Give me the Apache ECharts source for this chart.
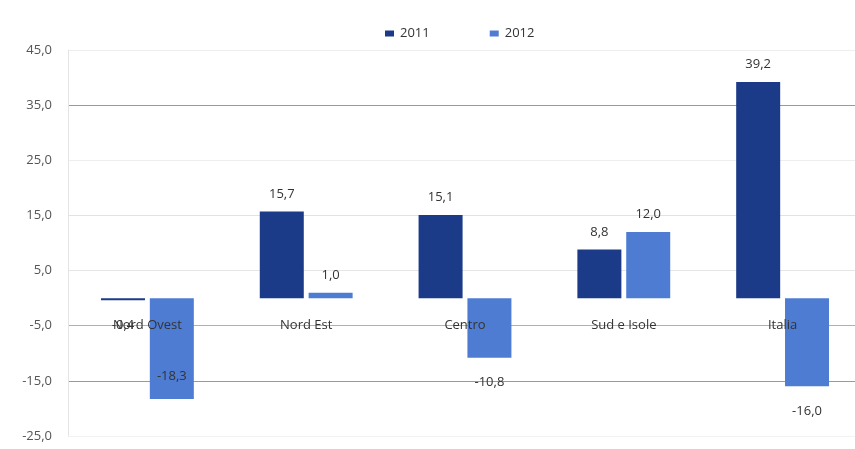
<!DOCTYPE html>
<html>
<head>
<meta charset="utf-8">
<script src="https://cdn.jsdelivr.net/npm/echarts@6/dist/echarts.min.js"></script>
<style>
  html, body { margin: 0; padding: 0; background: #fff; }
  #chart { width: 855px; height: 449px; }
</style>
</head>
<body>
<div id="chart"></div>
<script>
// Variazione percentuale per ripartizione territoriale
const categories = ['Nord Ovest', 'Nord Est', 'Centro', 'Sud e Isole', 'Italia'];
const seriesNames = ['2011', '2012'];
const values2011 = [-0.4, 15.7, 15.1, 8.8, 39.2];
const values2012 = [-18.3, 1.0, -10.8, 12.0, -16.0];

const Y_MIN = -25, Y_MAX = 45, Y_STEP = 10;
const fmt = v => v.toFixed(1).replace('.', ',');
const FONT = '"Open Sans", Lato, sans-serif';

// grid geometry
const GRID_TOP = 50, GRID_H = 386;
const zeroOffset = GRID_H * (0 - Y_MIN) / (Y_MAX - Y_MIN); // px from bottom to the zero line

// label placement per bar: outside the bar end, except where noted
function barData(values, insideIdx) {
  return values.map((v, i) => {
    if (i === insideIdx) {
      return { value: v, label: { position: 'insideBottom', distance: 16 } };
    }
    if (v < 0) {
      return { value: v, label: { position: 'outside', distance: v > -1 ? 18 : 18 } };
    }
    return v;
  });
}

const chart = echarts.init(document.getElementById('chart'), null, { renderer: 'canvas' });

const labelCommon = {
  show: true,
  position: 'outside',
  distance: 11,
  color: '#333',
  fontFamily: FONT,
  fontSize: 13,
  formatter: p => fmt(p.value)
};

chart.setOption({
  animation: false,
  backgroundColor: '#fff',
  legend: {
    left: 380,
    top: 22,
    itemWidth: 9,
    itemHeight: 6,
    itemGap: 60,
    icon: 'rect',
    textStyle: { fontFamily: FONT, fontSize: 13, color: '#333', padding: [0, 0, 0, 1] },
    data: seriesNames
  },
  grid: { left: 68, top: GRID_TOP, width: 794, height: GRID_H, outerBoundsMode: 'none', containLabel: false },
  xAxis: {
    type: 'category',
    data: categories,
    position: 'bottom',
    offset: -zeroOffset,
    z: 10,
    axisLine: { show: false, onZero: false },
    axisTick: { show: false },
    axisLabel: { margin: 21, fontFamily: FONT, fontSize: 13, color: '#333' },
    splitLine: { show: false }
  },
  yAxis: {
    type: 'value',
    min: Y_MIN,
    max: Y_MAX,
    interval: Y_STEP,
    axisLine: { show: true, lineStyle: { color: '#e4e4e4' } },
    axisTick: { show: false },
    axisLabel: {
      margin: 16,
      fontFamily: FONT,
      fontSize: 13,
      color: '#555',
      formatter: v => fmt(v)
    },
    splitLine: {
      show: true,
      lineStyle: {
        // -25, -15, -5, 5, 15, 25, 35, 45
        color: ['#f2f2f2', '#9a9a9a', '#b0b0b0', '#e6e6e6', '#e2e2e2', '#eeeeee', '#9a9a9a', '#eeeeee'],
        width: 1
      }
    }
  },
  series: [
    {
      name: seriesNames[0],
      type: 'bar',
      data: barData(values2011, -1),
      barWidth: 44,
      barGap: '11%',
      itemStyle: { color: '#1b3a88' },
      label: labelCommon
    },
    {
      name: seriesNames[1],
      type: 'bar',
      data: barData(values2012, 0),
      barWidth: 44,
      barGap: '11%',
      itemStyle: { color: '#4d7cd2' },
      label: labelCommon
    }
  ]
});
</script>
</body>
</html>
